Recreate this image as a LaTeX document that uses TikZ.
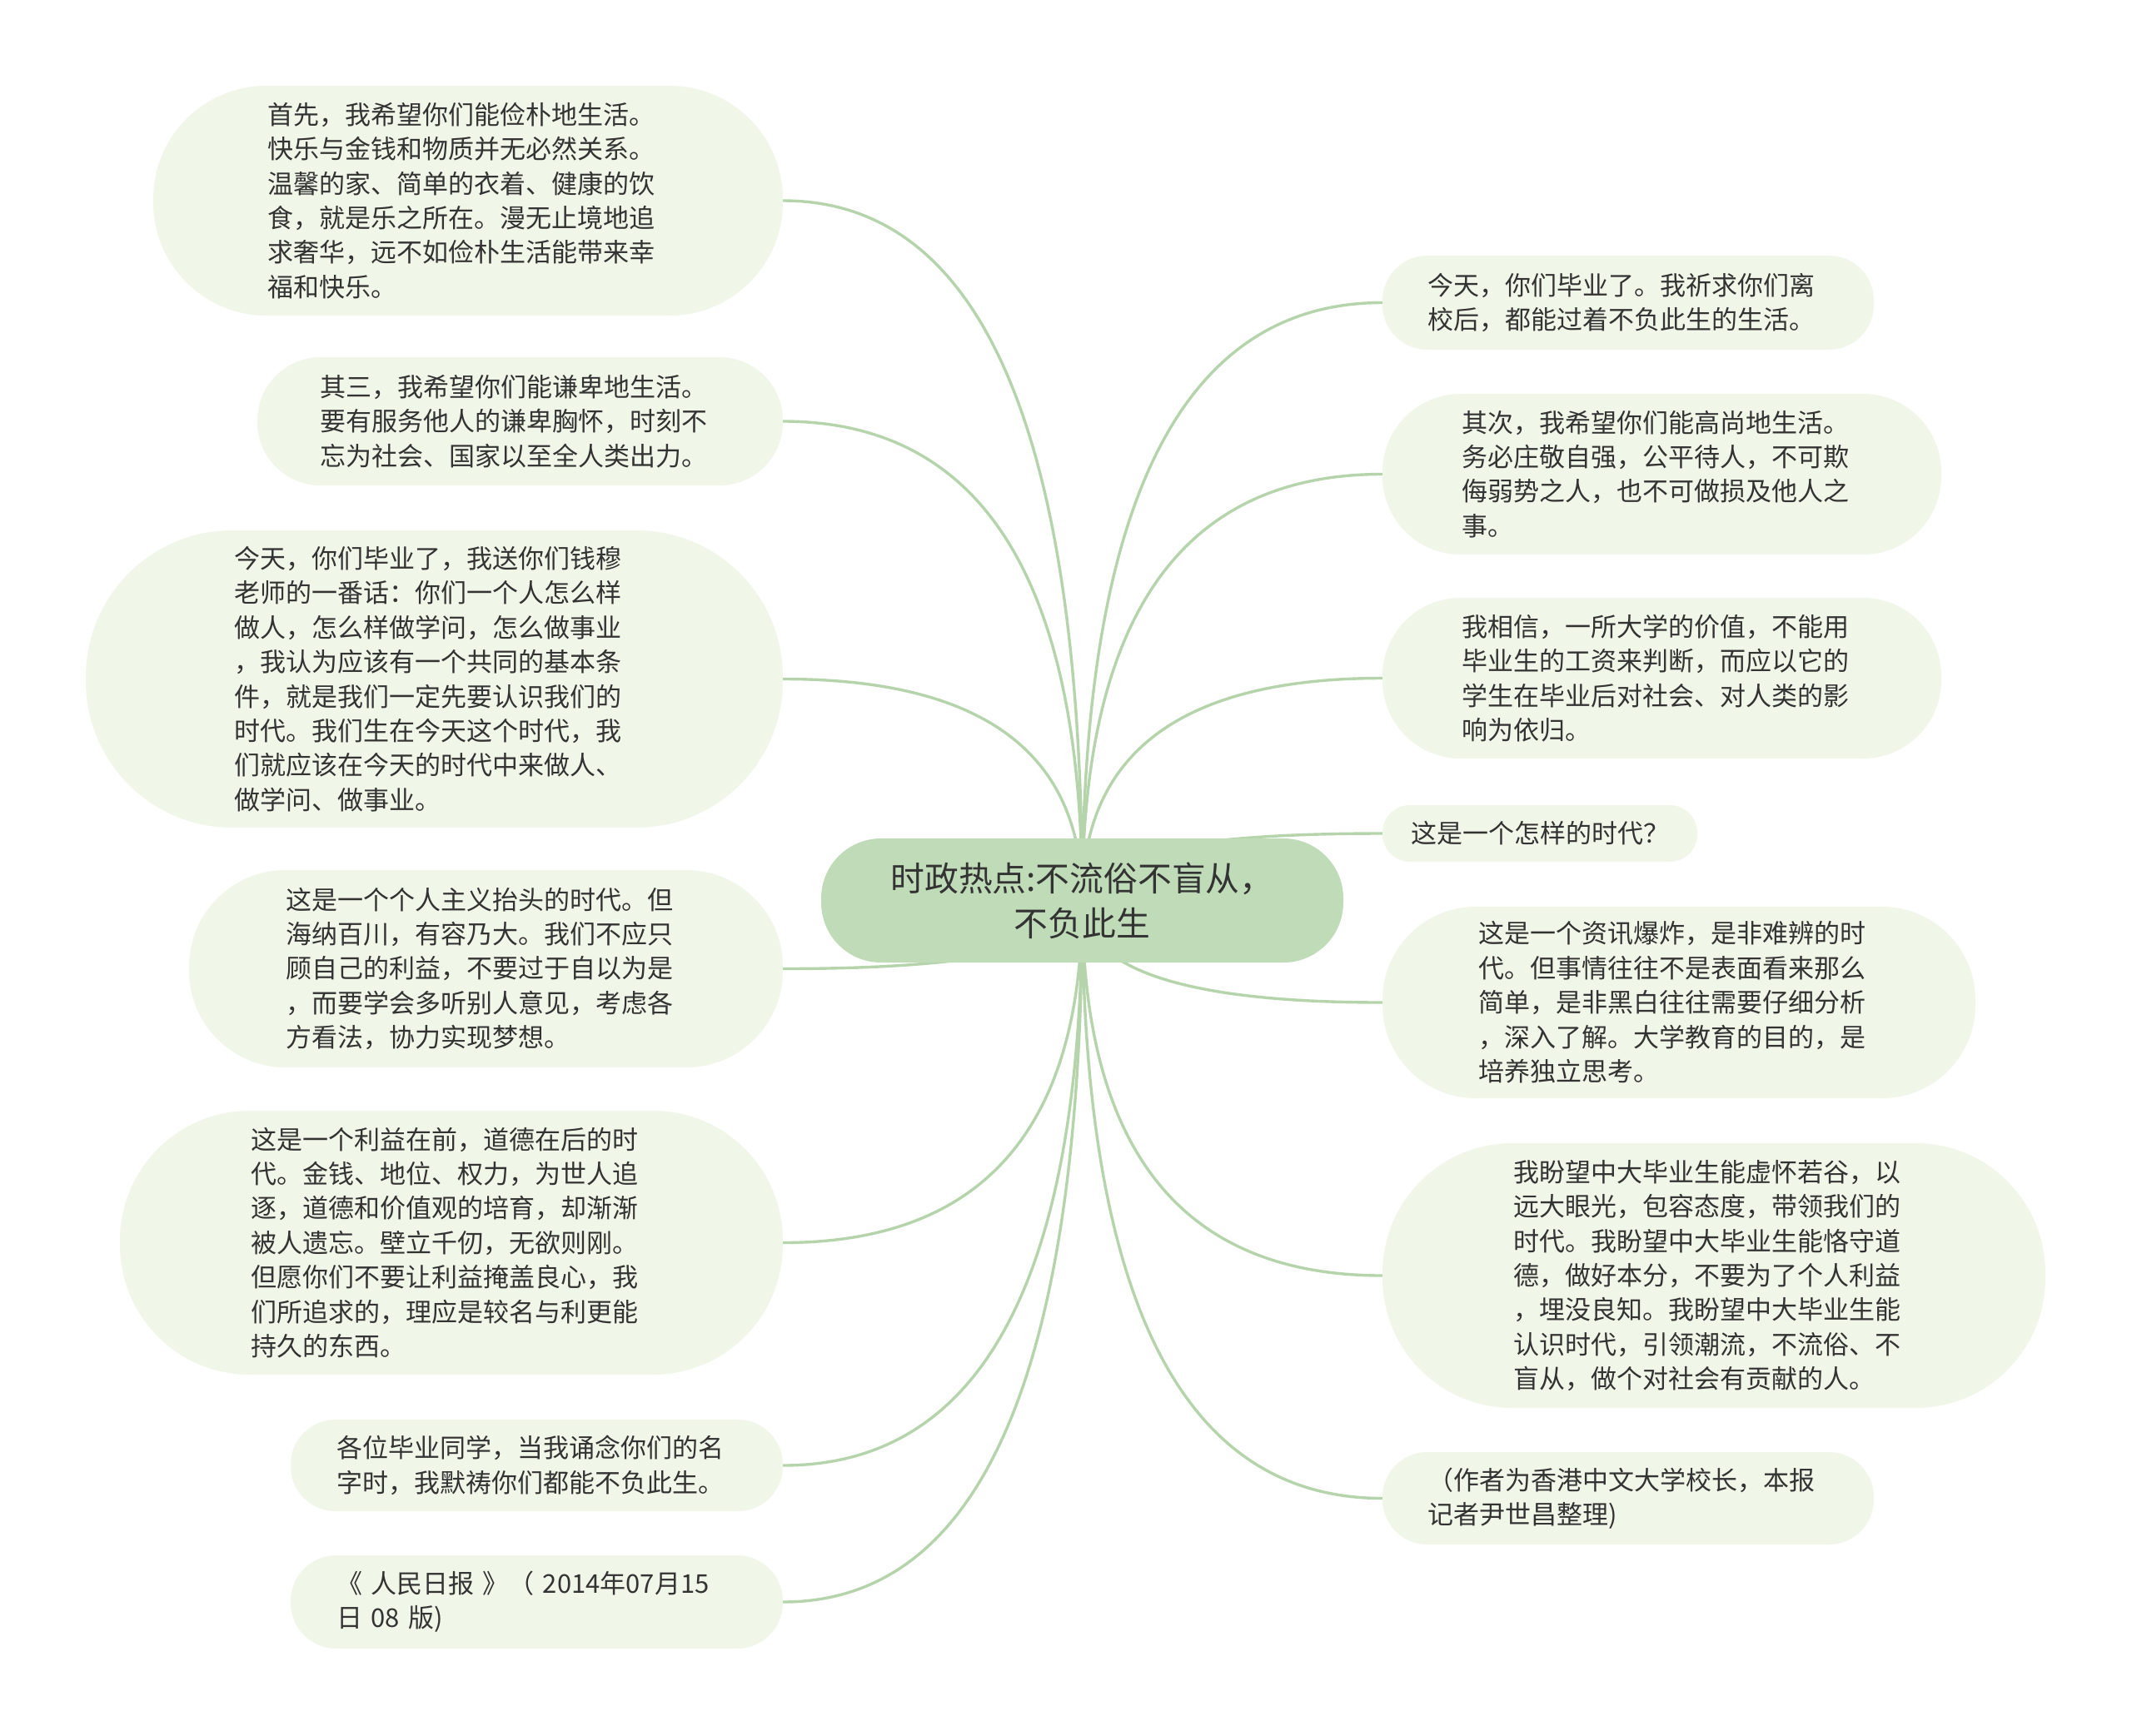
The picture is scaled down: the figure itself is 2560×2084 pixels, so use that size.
\documentclass[tikz,border=0pt]{standalone}
\usepackage{fontspec}
\newfontfamily\cjk{Noto Sans CJK SC}
\usetikzlibrary{calc,backgrounds}
\definecolor{leaffill}{HTML}{F0F6E8}
\definecolor{rootfill}{HTML}{C0DBB8}
\definecolor{linecol}{HTML}{B5D4AC}
\definecolor{txt}{HTML}{333333}
\tikzset{
  leafbase/.style n args={3}{draw=none, fill=leaffill, rectangle, rounded corners=#3,
    minimum width=#1, minimum height=#2, inner sep=0pt, align=left, text=txt,
    font=\cjk\fontsize{15.5pt}{20.7pt}\selectfont},
  leaf/.style n args={3}{leafbase={#1}{#2}{#3}, text width=240.5pt},
  root/.style={draw=none, fill=rootfill, rectangle, rounded corners=36pt,
    minimum width=313.5pt, minimum height=74.5pt, inner sep=0pt, align=center, text=txt,
    font=\cjk\fontsize{20.4pt}{27pt}\selectfont},
  branch/.style={draw=linecol, line width=1.7pt, line cap=round}
}
\newcommand\linkto[1]{\draw[branch] (C.center) .. controls ($(C.center)!0.667!(C.center |- #1)$) and ($(#1)!0.667!(C.center |- #1)$) .. (#1);}
\begin{document}
\begin{tikzpicture}[x=0.5pt,y=-0.5pt]
\path[use as bounding box] (0,0) rectangle (2560,2084);

\node[root] (C) at (1299.5,1081.5) {时政热点:不流俗不盲从，\\不负此生};

\node[leaf={378pt}{138pt}{68pt}] (L1) at (562,241) {首先，我希望你们能俭朴地生活。\\快乐与金钱和物质并无必然关系。\\温馨的家、简单的衣着、健康的饮\\食，就是乐之所在。漫无止境地追\\求奢华，远不如俭朴生活能带来幸\\福和快乐。};
\node[leaf={315.5pt}{77pt}{38pt}] (L2) at (624.5,506) {其三，我希望你们能谦卑地生活。\\要有服务他人的谦卑胸怀，时刻不\\忘为社会、国家以至全人类出力。};
\node[leaf={418.5pt}{178.5pt}{88pt}] (L3) at (521.5,815.5) {今天，你们毕业了，我送你们钱穆\\老师的一番话：你们一个人怎么样\\做人，怎么样做学问，怎么做事业\\，我认为应该有一个共同的基本条\\件，就是我们一定先要认识我们的\\时代。我们生在今天这个时代，我\\们就应该在今天的时代中来做人、\\做学问、做事业。};
\node[leaf={356.5pt}{118.5pt}{58pt}] (L4) at (583.5,1163.5) {这是一个个人主义抬头的时代。但\\海纳百川，有容乃大。我们不应只\\顾自己的利益，不要过于自以为是\\，而要学会多听别人意见，考虑各\\方看法，协力实现梦想。};
\node[leaf={398pt}{158.5pt}{78pt}] (L5) at (542,1492.5) {这是一个利益在前，道德在后的时\\代。金钱、地位、权力，为世人追\\逐，道德和价值观的培育，却渐渐\\被人遗忘。壁立千仞，无欲则刚。\\但愿你们不要让利益掩盖良心，我\\们所追求的，理应是较名与利更能\\持久的东西。};
\node[leaf={295.5pt}{55pt}{27pt}] (L6) at (644.5,1760) {各位毕业同学，当我诵念你们的名\\字时，我默祷你们都能不负此生。};
\node[leaf={295.5pt}{56pt}{27.5pt}] (L7) at (644.5,1924) {《 人民日报 》（ 2014年07月15\\日 08 版)};

\node[leaf={295pt}{56.5pt}{27pt}] (R1) at (1955,363.5) {今天，你们毕业了。我祈求你们离\\校后，都能过着不负此生的生活。};
\node[leaf={335.5pt}{96.5pt}{47pt}] (R2) at (1995.5,569.5) {其次，我希望你们能高尚地生活。\\务必庄敬自强，公平待人，不可欺\\侮弱势之人，也不可做损及他人之\\事。};
\node[leaf={335.5pt}{96.5pt}{47pt}] (R3) at (1995.5,814.5) {我相信，一所大学的价值，不能用\\毕业生的工资来判断，而应以它的\\学生在毕业后对社会、对人类的影\\响为依归。};
\node[leafbase={189pt}{34pt}{16.5pt}] (R4) at (1849,1001) {这是一个怎样的时代？};
\node[leaf={356pt}{115pt}{56pt}] (R5) at (2016,1204) {这是一个资讯爆炸，是非难辨的时\\代。但事情往往不是表面看来那么\\简单，是非黑白往往需要仔细分析\\，深入了解。大学教育的目的，是\\培养独立思考。};
\node[leaf={398pt}{159pt}{78pt}] (R6) at (2058,1532) {我盼望中大毕业生能虚怀若谷，以\\远大眼光，包容态度，带领我们的\\时代。我盼望中大毕业生能恪守道\\德，做好本分，不要为了个人利益\\，埋没良知。我盼望中大毕业生能\\认识时代，引领潮流，不流俗、不\\盲从，做个对社会有贡献的人。};
\node[leaf={295pt}{55.5pt}{27pt}] (R7) at (1955,1799.5) {（作者为香港中文大学校长，本报\\记者尹世昌整理)};

\begin{pgfonlayer}{background}
\fill[white] (0,0) rectangle (2560,2084);
\linkto{L1.east}
\linkto{L2.east}
\linkto{L3.east}
\linkto{L4.east}
\linkto{L5.east}
\linkto{L6.east}
\linkto{L7.east}
\linkto{R1.west}
\linkto{R2.west}
\linkto{R3.west}
\linkto{R4.west}
\linkto{R5.west}
\linkto{R6.west}
\linkto{R7.west}
\end{pgfonlayer}
\end{tikzpicture}
\end{document}
